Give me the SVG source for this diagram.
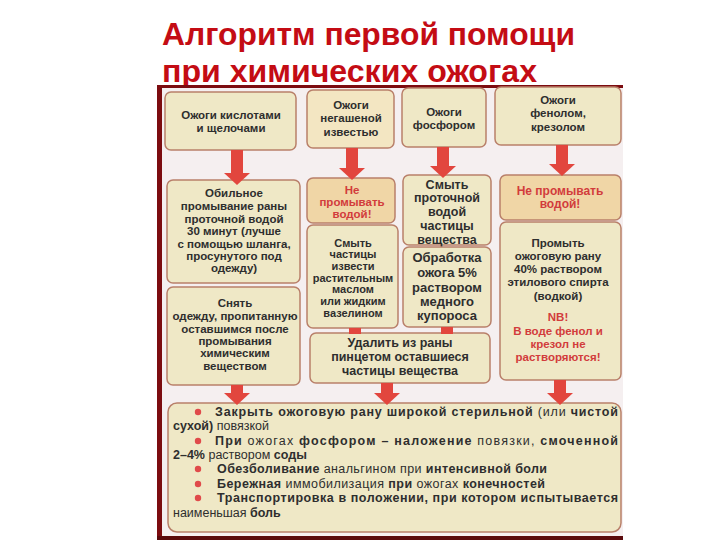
<svg xmlns="http://www.w3.org/2000/svg" width="720" height="540" viewBox="0 0 720 540">
<defs>
<style>
.title{font-family:"Liberation Sans",Arial,sans-serif;font-weight:bold;font-size:31px;fill:#c40c14}
.box{fill:#efe8c6;stroke:#b9806a;stroke-width:1.5}
.peach{fill:#f0d6a6;stroke:#b9806a;stroke-width:1.5}
.head{fill:#f3e6c2;stroke:#b9806a;stroke-width:1.5}
.t{font-family:"Liberation Sans",Arial,sans-serif;font-weight:bold;font-size:11.5px;fill:#2e2e2e;text-anchor:middle}
.r{fill:#d23c3c}
.b{font-family:"Liberation Sans",Arial,sans-serif;font-weight:bold;font-size:12.5px;fill:#2e2e2e}
.n{font-weight:normal}
.dot{fill:#e04a4a}
.arr{stroke:#e2463e;stroke-width:12;fill:none}
</style>
<marker id="ah" viewBox="0 0 12 26" refX="0" refY="13" markerWidth="12" markerHeight="26" markerUnits="userSpaceOnUse" orient="auto">
<path d="M0,0 L12,13 L0,26 z" fill="#e2463e"/>
</marker>
</defs>
<rect width="720" height="540" fill="#ffffff"/>
<text class="title" x="162" y="45" textLength="413" lengthAdjust="spacingAndGlyphs">Алгоритм первой помощи</text>
<text class="title" x="162" y="82" textLength="375" lengthAdjust="spacingAndGlyphs">при химических ожогах</text>
<g id="frame">
<rect x="157" y="85" width="466" height="455" fill="#f5eff0"/>
<rect x="157" y="85" width="466" height="3" fill="#7c0c10"/>
<rect x="157" y="85" width="5" height="455" fill="#7c0c10"/>
<rect x="157" y="536" width="466" height="4" fill="#5a0a0c"/>
</g>
<g id="n-acid">
<rect class="box" x="165" y="92" width="131" height="58" rx="6"/>
<text class="t" x="231" y="119">Ожоги кислотами</text>
<text class="t" x="231" y="132">и щелочами</text>
</g>
<g id="n-lime">
<rect class="head" x="307" y="90" width="87" height="58" rx="6"/>
<text class="t" x="351" y="109">Ожоги</text>
<text class="t" x="351" y="122">негашеной</text>
<text class="t" x="351" y="136">известью</text>
</g>
<g id="n-phos">
<rect class="box" x="402" y="88" width="84" height="59" rx="6"/>
<text class="t" x="444" y="116">Ожоги</text>
<text class="t" x="444" y="129">фосфором</text>
</g>
<g id="n-phenol">
<rect class="box" x="495" y="87" width="126" height="58" rx="6"/>
<text class="t" x="558" y="104">Ожоги</text>
<text class="t" x="558" y="117">фенолом,</text>
<text class="t" x="558" y="131">крезолом</text>
</g>
<g id="n-wash">
<rect class="box" x="167" y="180" width="133" height="103" rx="6"/>
<text class="t" x="234" y="197">Обильное</text>
<text class="t" x="234" y="210">промывание раны</text>
<text class="t" x="234" y="223">проточной водой</text>
<text class="t" x="234" y="235">30 минут (лучше</text>
<text class="t" x="234" y="248">с помощью шланга,</text>
<text class="t" x="234" y="260">просунутого под</text>
<text class="t" x="234" y="272">одежду)</text>
</g>
<g id="n-nowater1">
<rect class="peach" x="307" y="178" width="88" height="45" rx="6"/>
<text class="t r" x="352" y="194">Не</text>
<text class="t r" x="352" y="206">промывать</text>
<text class="t r" x="352" y="218">водой!</text>
</g>
<g id="n-oil">
<rect class="box" x="307" y="225" width="91" height="103" rx="6"/>
<text class="t" x="353" y="247" style="font-size:11px">Смыть</text>
<text class="t" x="353" y="258" style="font-size:11px">частицы</text>
<text class="t" x="353" y="270" style="font-size:11px">извести</text>
<text class="t" x="353" y="282" style="font-size:11px">растительным</text>
<text class="t" x="353" y="293" style="font-size:11px">маслом</text>
<text class="t" x="353" y="305" style="font-size:11px">или жидким</text>
<text class="t" x="353" y="317" style="font-size:11px">вазелином</text>
</g>
<g id="n-rinse">
<rect class="box" x="403" y="175" width="88" height="70" rx="6"/>
<text class="t" x="447" y="189" style="font-size:12.5px">Смыть</text>
<text class="t" x="447" y="202" style="font-size:12.5px">проточной</text>
<text class="t" x="447" y="216" style="font-size:12.5px">водой</text>
<text class="t" x="447" y="230" style="font-size:12.5px">частицы</text>
<text class="t" x="447" y="244" style="font-size:12.5px">вещества</text>
</g>
<g id="n-copper">
<rect class="box" x="403" y="247" width="88" height="80" rx="6"/>
<text class="t" x="447" y="262" style="font-size:13px">Обработка</text>
<text class="t" x="447" y="277" style="font-size:13px">ожога 5%</text>
<text class="t" x="447" y="292" style="font-size:13px">раствором</text>
<text class="t" x="447" y="306" style="font-size:13px">медного</text>
<text class="t" x="447" y="320" style="font-size:13px">купороса</text>
</g>
<g id="n-nowater2">
<rect class="peach" x="500" y="175" width="121" height="45" rx="6"/>
<text class="t r" x="560" y="195" style="font-size:12px">Не промывать</text>
<text class="t r" x="560" y="208" style="font-size:12px">водой!</text>
</g>
<g id="n-alcohol">
<rect class="box" x="500" y="222" width="121" height="158" rx="6"/>
<text class="t" x="558" y="247">Промыть</text>
<text class="t" x="558" y="260">ожоговую рану</text>
<text class="t" x="558" y="273">40% раствором</text>
<text class="t" x="558" y="286">этилового спирта</text>
<text class="t" x="558" y="300">(водкой)</text>
<text class="t r" x="558" y="321">NB!</text>
<text class="t r" x="558" y="335">В воде фенол и</text>
<text class="t r" x="558" y="348">крезол не</text>
<text class="t r" x="558" y="361">растворяются!</text>
</g>
<g id="n-clothes">
<rect class="box" x="167" y="287" width="133" height="98" rx="6"/>
<text class="t" x="235" y="307">Снять</text>
<text class="t" x="235" y="320">одежду, пропитанную</text>
<text class="t" x="235" y="333">оставшимся после</text>
<text class="t" x="235" y="345">промывания</text>
<text class="t" x="235" y="357">химическим</text>
<text class="t" x="235" y="370">веществом</text>
</g>
<g id="n-remove">
<rect class="box" x="310" y="333" width="180" height="50" rx="6"/>
<text class="t" x="400" y="347" style="font-size:12.5px">Удалить из раны</text>
<text class="t" x="400" y="361" style="font-size:12.5px">пинцетом оставшиеся</text>
<text class="t" x="400" y="375" style="font-size:12.5px">частицы вещества</text>
</g>
<g id="n-general">
<rect class="box" x="168" y="403" width="453" height="129" rx="9"/>
<circle class="dot" cx="198" cy="412" r="3.2"/>
<text class="b" x="215" y="416" textLength="403" lengthAdjust="spacing">Закрыть ожоговую рану широкой стерильной <tspan class="n">(или</tspan> чистой</text>
<text class="b" x="173" y="430">сухой) <tspan class="n">повязкой</tspan></text>
<circle class="dot" cx="198" cy="441" r="3.2"/>
<text class="b" x="215" y="445" textLength="403" lengthAdjust="spacing">При <tspan class="n">ожогах</tspan> фосфором – наложение <tspan class="n">повязки,</tspan> смоченной</text>
<text class="b" x="173" y="459">2–4% <tspan class="n">раствором</tspan> соды</text>
<circle class="dot" cx="198" cy="469" r="3.2"/>
<text class="b" x="217" y="473" textLength="330" lengthAdjust="spacing">Обезболивание <tspan class="n">анальгином при</tspan> интенсивной боли</text>
<circle class="dot" cx="198" cy="484" r="3.2"/>
<text class="b" x="217" y="488" textLength="328" lengthAdjust="spacing">Бережная <tspan class="n">иммобилизация</tspan> при <tspan class="n">ожогах</tspan> конечностей</text>
<circle class="dot" cx="198" cy="498" r="3.2"/>
<text class="b" x="217" y="502" textLength="401" lengthAdjust="spacing">Транспортировка в положении, при котором испытывается</text>
<text class="b" x="173" y="517"><tspan class="n">наименьшая</tspan> боль</text>
</g>
<g id="connectors">
<line class="arr" x1="237" y1="150" x2="237" y2="173" marker-end="url(#ah)"/>
<line class="arr" x1="352" y1="148" x2="352" y2="168" marker-end="url(#ah)"/>
<line class="arr" x1="443" y1="147" x2="443" y2="166" marker-end="url(#ah)"/>
<line class="arr" x1="562" y1="145" x2="562" y2="164" marker-end="url(#ah)"/>
<line class="arr" x1="355" y1="328" x2="355" y2="334"/>
<line class="arr" x1="447" y1="327" x2="447" y2="334"/>
<line class="arr" x1="237" y1="385" x2="237" y2="393" marker-end="url(#ah)"/>
<line class="arr" x1="387" y1="383" x2="387" y2="393" marker-end="url(#ah)"/>
<line class="arr" x1="560" y1="380" x2="560" y2="393" marker-end="url(#ah)"/>
</g>
</svg>
